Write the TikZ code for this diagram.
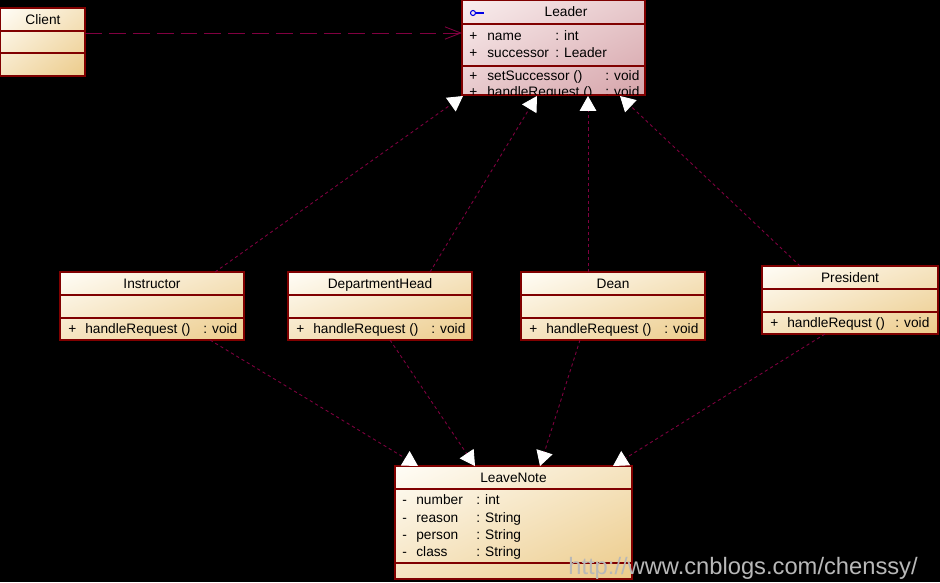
\documentclass[tikz,border=0pt]{standalone}
\usepackage{fontspec}
\setmainfont{Liberation Sans}
\usetikzlibrary{arrows.meta,calc,shadings}
\definecolor{boxred}{RGB}{128,0,0}
\definecolor{linered}{RGB}{128,0,64}
\definecolor{creamlo}{RGB}{255,253,247}
\definecolor{creamhi}{RGB}{236,203,138}
\colorlet{creammid}{creamlo!50!creamhi}
\definecolor{pinklo}{RGB}{249,238,238}
\definecolor{pinkhi}{RGB}{214,164,170}
\colorlet{pinkmid}{pinklo!50!pinkhi}
\definecolor{ifblue}{RGB}{0,0,230}
\definecolor{urlgray}{RGB}{184,184,184}
\begin{document}
\begin{tikzpicture}[x=0.02cm, y=-0.02cm,
    font=\fontsize{7.8}{9.4}\selectfont,
    classbox/.style={draw=boxred, line width=0.9pt, anchor=north west, inner sep=0pt, outer sep=0pt,
      upper left=creamlo, upper right=creammid, lower left=creammid, lower right=creamhi},
    sect/.style={draw=boxred, line width=0.9pt},
    txt/.style={inner sep=0pt, text height=1.6ex, text depth=0.4ex},
    realize/.style={draw=linered, line width=0.5pt, dash pattern=on 1.8pt off 1.7pt,
      -{Triangle[length=8.5pt, width=9.5pt, color=white]}},
    depend/.style={draw=linered, line width=0.5pt, dash pattern=on 9.6pt off 4pt,
      -{Straight Barb[length=9pt, width=7pt]}}]
  \useasboundingbox (0,0) rectangle (940,582);
  \fill[black] (0,0) rectangle (940,582);

  \node[classbox, minimum width=85*0.02cm, minimum height=68*0.02cm] (client) at (0,8) {};
  \draw[sect] ($(client.north west)+(0,23)$) -- ($(client.north east)+(0,23)$)
    ($(client.north west)+(0,45)$) -- ($(client.north east)+(0,45)$);
  \node[txt] (client-title) at (43,19) {Client};

  \node[classbox, upper left=pinklo, upper right=pinkmid, lower left=pinkmid, lower right=pinkhi,
    minimum width=183*0.02cm, minimum height=95*0.02cm] (leader) at (462,0) {};
  \draw[sect] ($(leader.north west)+(0,24)$) -- ($(leader.north east)+(0,24)$)
    ($(leader.north west)+(0,66)$) -- ($(leader.north east)+(0,66)$);
  \node[circle, draw=ifblue, line width=0.6pt, inner sep=0pt, minimum size=5*0.02cm] (leader-icon) at (473,13) {};
  \draw[ifblue, line width=0.6pt] (leader-icon.east) -- +(8,0);
  \node[txt] (leader-title) at (566,11) {Leader};
  \begin{scope}
    \clip (463,25) rectangle (644,94.5);
    \foreach \i/\y/\a/\b in {1/35/name/{: int}, 2/52/successor/{: Leader}}{
      \node[txt, anchor=west] (leader-v\i) at (469,\y) {+};
      \node[txt, anchor=west] (leader-a\i) at (487,\y) {\a};
      \node[txt, anchor=west] (leader-t\i) at (555,\y) {\b};
    }
    \foreach \i/\y/\m in {3/75/setSuccessor, 4/91/handleRequest}{
      \node[txt, anchor=west] (leader-v\i) at (469,\y) {+};
      \node[txt, anchor=west] (leader-a\i) at (487,\y) {\m{} ()};
      \node[txt, anchor=west] (leader-t\i) at (605,\y) {: void};
    }
  \end{scope}

  \foreach \n/\x/\y/\w/\v/\t/\m in {
      inst/60/272/184/143/Instructor/handleRequest,
      dept/288/272/184/143/DepartmentHead/handleRequest,
      dean/521/272/184/143/Dean/handleRequest,
      pres/762/266/176/133/President/handleRequst}{
    \node[classbox, minimum width=\w*0.02cm, minimum height=68*0.02cm] (\n) at (\x,\y) {};
    \draw[sect] ($(\n.north west)+(0,23)$) -- ($(\n.north east)+(0,23)$)
      ($(\n.north west)+(0,46)$) -- ($(\n.north east)+(0,46)$);
    \node[txt] (\n-title) at ($(\n.north)+(0,11)$) {\t};
    \node[txt, anchor=west] (\n-v1) at ($(\n.north west)+(8,56)$) {+};
    \node[txt, anchor=west] (\n-m1) at ($(\n.north west)+(25,56)$) {\m{} ()};
    \node[txt, anchor=west] (\n-t1) at ($(\n.north west)+(\v,56)$) {: void};
  }

  \node[classbox, minimum width=237*0.02cm, minimum height=113*0.02cm] (note) at (395,466) {};
  \draw[sect] ($(note.north west)+(0,23)$) -- ($(note.north east)+(0,23)$)
    ($(note.north west)+(0,97)$) -- ($(note.north east)+(0,97)$);
  \node[txt] (note-title) at (513.5,477) {LeaveNote};
  \foreach \i/\y/\a/\b in {1/499/number/int, 2/517/reason/String, 3/534/person/String, 4/551/class/String}{
    \node[txt, anchor=west] (note-v\i) at (402,\y) {-};
    \node[txt, anchor=west] (note-a\i) at (416,\y) {\a};
    \node[txt, anchor=west] (note-t\i) at (476,\y) {: \b};
  }

  \draw[depend] ($(client.north east)+(0,25)$) -- ($(leader.north west)+(0,33)$);
  \foreach \n/\a/\b/\c/\d in {inst/155/1/150/23, dept/142/75/102/80, dean/67/126/59/145, pres/38/158/63/218}{
    \draw[realize] ($(\n.north west)+(\a,0)$) -- ($(leader.south west)+(\b,1)$);
    \draw[realize] ($(\n.south west)+(\c,0)$) -- ($(note.north west)+(\d,0)$);
  }

  \node[anchor=base west, inner sep=0pt, text=urlgray, font=\fontsize{13.5}{16}\selectfont] (url) at (568,574)
    {http://www.cnblogs.com/chenssy/};
\end{tikzpicture}
\end{document}
